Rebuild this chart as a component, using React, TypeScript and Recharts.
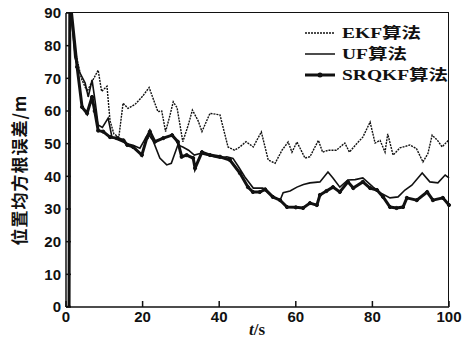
import { LineChart, Line, XAxis, YAxis, Legend } from 'recharts';

const xTicks = [0, 20, 40, 60, 80, 100];
const yTicks = [0, 10, 20, 30, 40, 50, 60, 70, 80, 90];

const ekfTime = [0.8, 1, 2.5, 4, 5.5, 6.8, 8.4, 9.3, 10.7, 11.5, 12.5, 13.8, 14.9, 16.2, 18, 20, 21.7, 23, 24, 25, 26, 27, 28, 29, 30.5, 32, 33, 34.5, 35.5, 37.6, 40.2, 42.3, 44, 45.4, 47, 48.9, 51, 52.8, 54.6, 56.4, 58, 59, 60.3, 62.4, 63.7, 65.9, 67, 68.5, 70.6, 72.8, 74, 75.9, 77.5, 79.4, 80.7, 82, 83.3, 84, 85.4, 87.2, 89.8, 91.5, 93.2, 94.5, 95.6, 97, 98.2, 99.8];
const ekfError = [0, 95, 78, 70, 66, 69, 72.5, 66, 67.6, 57, 53, 52, 62.4, 60.8, 62, 64.5, 67.2, 63, 59.8, 60, 53.7, 58, 62.8, 61, 50.6, 56, 60.3, 57, 53.7, 59.3, 58.8, 49, 48, 49, 50.6, 49, 53.6, 45, 44, 48, 50.5, 47.4, 50.5, 45.6, 46, 51, 47.4, 48, 48, 50.2, 47.4, 50, 52, 56.6, 50.2, 51, 47.4, 53, 46.5, 48.7, 49.6, 48.5, 44.4, 47, 52.6, 51, 49, 51];

const ufTime = [0.8, 1, 2.3, 3.5, 5, 5.8, 6.8, 7.6, 8.4, 9.5, 11, 12, 14, 16, 17.5, 19.3, 21.4, 22.7, 24.5, 26.3, 27.5, 29.2, 30.5, 32, 33.5, 35, 37, 40, 42, 43.6, 45, 46.7, 48.9, 51.4, 54, 55.9, 56.7, 58.5, 60.3, 62, 63.7, 66.3, 68.4, 69.7, 71.5, 73.6, 75.5, 77.5, 80.2, 82, 84.6, 86.7, 88.5, 90.3, 93, 95, 97.1, 99, 100];
const ufError = [0, 95, 76.5, 72, 68.6, 64.3, 69.5, 63, 55.7, 55, 57.8, 52, 51, 50, 49.5, 48.6, 53, 51, 45.6, 43.5, 44, 49.6, 49, 48, 46.5, 47, 46.5, 45.6, 46, 45.5, 43, 39.8, 36.4, 36.4, 33.7, 32.7, 35, 35.5, 36.7, 37.5, 38, 38.3, 41.3, 39.5, 36.7, 38.9, 39, 39.5, 36.7, 35, 33.4, 33.7, 35.8, 37.3, 41, 38.3, 38, 40.4, 39.5];

const srqkfTime = [0.8, 1, 2.9, 4.2, 5.5, 6.8, 7.5, 8.4, 9.7, 11.5, 13.3, 15, 16, 17.5, 19.8, 21.1, 21.9, 23.2, 25.4, 27.7, 29.2, 30.2, 31.5, 33.2, 33.7, 35.5, 37.6, 40.2, 42.8, 45.4, 47.5, 48.8, 50.6, 52, 54, 55.9, 57.7, 60, 61.9, 63.7, 65.5, 66.3, 68, 69.7, 71.5, 73.6, 75, 77.5, 79.4, 81.2, 82.8, 84.6, 86.3, 88, 89, 91.6, 94.3, 95.8, 98.4, 100];
const srqkfError = [0, 95, 73.5, 61.2, 59.3, 64.3, 60, 54, 53.7, 52, 51.7, 51, 49.6, 49, 46.5, 51.7, 53.7, 50.6, 51.7, 52.6, 50.6, 46, 46.5, 45.6, 42.5, 47.4, 46.5, 46, 45, 41, 36.7, 35.2, 35.2, 36, 33.7, 32.7, 30.6, 30.5, 30.3, 31.8, 31.2, 34.3, 35.5, 36.7, 35.2, 38.3, 36.4, 38.3, 36.4, 35.8, 33.7, 30.6, 30.3, 30.6, 33.4, 32.7, 35.2, 32.7, 33.4, 31.2];

const seriesNames = ['EKF算法', 'UF算法', 'SRQKF算法'];

const toPoints = (ts: number[], vs: number[]) => ts.map((t, i) => ({ t, v: vs[i] }));

const ekfData = toPoints(ekfTime, ekfError);
const ufData = toPoints(ufTime, ufError);
const srqkfData = toPoints(srqkfTime, srqkfError);

const INK = '#111';
const TICK_FONT = { fontFamily: '"Liberation Sans", Arial, sans-serif', fontWeight: 700, fontSize: 15, fill: INK };

// plot box in page pixels
const PLOT = { left: 66, top: 13, right: 449, bottom: 307 };

const XTick = ({ x, y, payload }: any) => (
    <g>
        <line x1={x} x2={x} y1={y - 4} y2={y - 10} stroke={INK} strokeWidth={1.5} />
        <text x={x} y={y} dy="0.71em" textAnchor="middle" {...TICK_FONT}>{payload.value}</text>
    </g>
);

const YTick = ({ x, y, payload }: any) => (
    <g>
        <line x1={x + 5} x2={x + 10} y1={y} y2={y} stroke={INK} strokeWidth={1.5} />
        <text x={x} y={y} dy="0.36em" textAnchor="end" {...TICK_FONT}>{payload.value}</text>
    </g>
);

const LegendBox = () => {
    const rows = [
        { name: seriesNames[0], dash: '2 1', width: 1.5, dot: false },
        { name: seriesNames[1], dash: undefined, width: 1.5, dot: false },
        { name: seriesNames[2], dash: undefined, width: 3, dot: true },
    ];
    return (
        <svg width={160} height={70}>
            {rows.map((r, i) => {
                const cy = 10 + i * 21;
                return (
                    <g key={r.name}>
                        <line x1={2} x2={32} y1={cy} y2={cy} stroke={INK} strokeWidth={r.width} strokeDasharray={r.dash} />
                        {r.dot && <circle cx={17} cy={cy} r={2.5} fill={INK} />}
                        <text
                            x={39}
                            y={cy}
                            dy="0.36em"
                            transform={`translate(39 0) scale(1.3 1) translate(-39 0)`}
                            fontFamily='"Liberation Serif", "Noto Sans CJK SC", serif'
                            fontWeight={700}
                            fontSize={15}
                            fill={INK}
                        >
                            {r.name}
                        </text>
                    </g>
                );
            })}
        </svg>
    );
};

export default function App() {
    return (
        <div style={{ position: 'absolute', left: 0, top: 0, width: 464, height: 339, background: '#fff' }}>
            <LineChart width={464} height={339} margin={{ top: PLOT.top, right: 464 - PLOT.right, left: 0, bottom: 10 }}>
                <XAxis
                    xAxisId="b"
                    type="number"
                    dataKey="t"
                    domain={[0, 100]}
                    ticks={xTicks}
                    height={339 - PLOT.bottom - 10}
                    tickSize={0}
                    tickMargin={4}
                    tick={<XTick />}
                    stroke={INK}
                    strokeWidth={1.5}
                    interval={0}
                />
                <YAxis
                    yAxisId="l"
                    type="number"
                    domain={[0, 90]}
                    ticks={yTicks}
                    allowDataOverflow
                    width={PLOT.left}
                    tickSize={0}
                    tickMargin={5}
                    tick={<YTick />}
                    stroke={INK}
                    strokeWidth={1.5}
                    interval={0}
                />
                <Legend
                    layout="horizontal"
                    verticalAlign="middle"
                    align="center"
                    content={<LegendBox />}
                    wrapperStyle={{ position: 'absolute', left: 303, top: 23, width: 160 }}
                />
                <Line
                    xAxisId="b"
                    yAxisId="l"
                    data={ekfData}
                    dataKey="v"
                    name={seriesNames[0]}
                    stroke={INK}
                    strokeWidth={1.4}
                    strokeDasharray="2 1"
                    dot={false}
                    type="linear"
                    isAnimationActive={false}
                />
                <Line
                    xAxisId="b"
                    yAxisId="l"
                    data={ufData}
                    dataKey="v"
                    name={seriesNames[1]}
                    stroke={INK}
                    strokeWidth={1.6}
                    dot={false}
                    type="linear"
                    isAnimationActive={false}
                />
                <Line
                    xAxisId="b"
                    yAxisId="l"
                    data={srqkfData}
                    dataKey="v"
                    name={seriesNames[2]}
                    stroke={INK}
                    strokeWidth={3}
                    dot={{ r: 1.6, fill: INK, stroke: INK, strokeWidth: 1 }}
                    type="linear"
                    isAnimationActive={false}
                />
            </LineChart>
            {/* top and right frame edges */}
            <div
                style={{
                    position: 'absolute',
                    left: PLOT.left,
                    top: PLOT.top - 1,
                    width: PLOT.right - PLOT.left,
                    height: PLOT.bottom - PLOT.top,
                    borderTop: `1.5px solid ${INK}`,
                    borderRight: `1.5px solid ${INK}`,
                    boxSizing: 'border-box',
                    pointerEvents: 'none',
                }}
            />
            <div
                style={{
                    position: 'absolute',
                    left: 18,
                    top: 170,
                    transform: 'translate(-50%, -50%) rotate(-90deg)',
                    whiteSpace: 'nowrap',
                    fontFamily: '"Noto Sans CJK SC", sans-serif',
                    fontWeight: 700,
                    fontSize: 17,
                    color: INK,
                    letterSpacing: 1,
                }}
            >
                位置均方根误差/m
            </div>
            <div
                style={{
                    position: 'absolute',
                    left: 257,
                    top: 330,
                    transform: 'translate(-50%, -50%)',
                    whiteSpace: 'nowrap',
                    fontFamily: '"Liberation Serif", serif',
                    fontWeight: 700,
                    fontSize: 17,
                    color: INK,
                }}
            >
                <i>t</i>/s
            </div>
        </div>
    );
}
